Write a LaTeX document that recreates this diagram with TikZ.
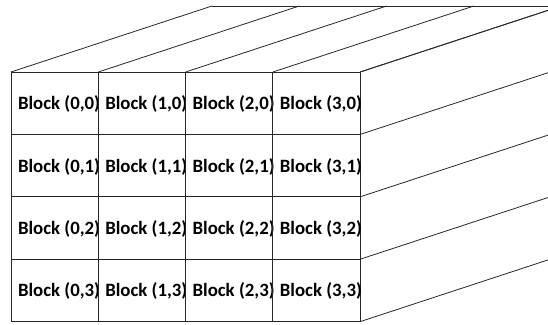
\documentclass[tikz,border=0pt]{standalone}
\usepackage{fontspec}
\setmainfont{Carlito}
\begin{document}
\begin{tikzpicture}[x=1pt,y=1pt,
  edge/.style={draw=black!85,line width=0.8pt},
  cell/.style={draw=black!85,line width=0.9pt,minimum width=87.3pt,minimum height=62.4pt,inner sep=0pt,outer sep=0pt},
  lbl/.style={anchor=west,inner sep=0pt,font=\bfseries\fontsize{18.8}{20}\selectfont}]
\useasboundingbox (0,0) rectangle (548,324);
\clip (0,0) rectangle (548,324);
% front grid cells
\foreach \c in {0,1,2,3}{
  \foreach \r in {0,1,2,3}{
    \node[cell] (c\c\r) at ({11+87.3*\c+43.65},{324-72-62.4*\r-31.2}) {};
    \node[lbl] (t\c\r) at ([xshift=6.8pt,yshift=-1pt]c\c\r.west) {Block (\c,\r)};
  }
}
% top face
\foreach \c in {0,1,2,3}{
  \coordinate (b\c) at ([shift={(201,66)}]c\c0.north west);
  \draw[edge] (c\c0.north west) -- (b\c);
}
\coordinate (b4) at ([shift={(201,66)}]c30.north east);
\draw[edge] (c30.north east) -- (b4);
\draw[edge] (b0) -- (b4);
% right face
\foreach \r in {0,1,2,3}{
  \coordinate (r\r) at ([shift={(201,66)}]c3\r.north east);
  \draw[edge] (c3\r.north east) -- (r\r);
}
\coordinate (r4) at ([shift={(201,66)}]c33.south east);
\draw[edge] (c33.south east) -- (r4);
\end{tikzpicture}
\end{document}
